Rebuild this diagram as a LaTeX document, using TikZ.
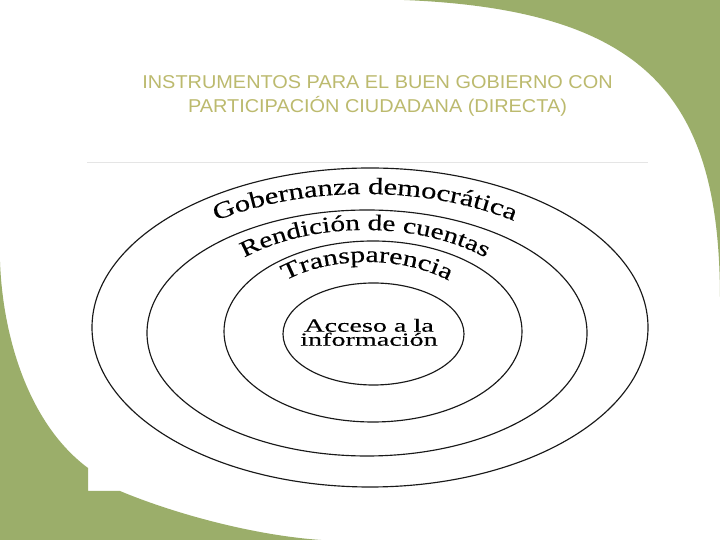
\documentclass[tikz,border=0pt]{standalone}
\usepackage{fontspec}
\setmainfont{Liberation Serif}
\newfontfamily\titlefont[FakeStretch=1.07]{Liberation Sans}
\newfontfamily\arcserif[FakeStretch=1.3,FakeBold=0.3]{Liberation Serif}
\newfontfamily\coreserif[FakeStretch=1.52,FakeBold=0.3]{Liberation Serif}
\usetikzlibrary{decorations.text}
\definecolor{slidegreen}{RGB}{155,174,106}
\definecolor{titlekhaki}{RGB}{188,186,110}
\begin{document}
\begin{tikzpicture}[x=1pt,y=1pt,
  ring/.style={line width=1.15pt, draw=black!90},
  titletext/.style={font=\titlefont\fontsize{18.6}{22}\selectfont, text=titlekhaki, anchor=base, inner sep=0pt},
  coretext/.style={font=\coreserif\fontsize{18.5}{14}\selectfont, anchor=base, inner sep=0pt}]
\useasboundingbox (0,0) rectangle (720,540);
\fill[white] (0,0) rectangle (720,540);
% green slide decorations
\fill[slidegreen] (404,540) .. controls (650,530) and (720,440) .. (720,240) -- (720,540) -- cycle;
\fill[slidegreen] (0,278) .. controls (3,200) and (30,115) .. (88,72) -- (88,49) -- (120,49)
  .. controls (170,28) and (250,5) .. (321,0) -- (0,0) -- cycle;
% thin rule above the figure
\draw[black!10, line width=0.8pt] (87,378) -- (648,378);
% title
\node[titletext] (t1) at (377.5,451.7) {INSTRUMENTOS PARA EL BUEN GOBIERNO CON};
\node[titletext] (t2) at (377.5,427.3) {PARTICIPACIÓN CIUDADANA (DIRECTA)};
% rings
\draw[ring] (370,212.5) ellipse [x radius=278, y radius=159.5];
\draw[ring] (367,207) ellipse [x radius=220, y radius=123];
\draw[ring] (373,208.5) ellipse [x radius=149, y radius=90.5];
\draw[ring] (373.5,206) ellipse [x radius=90.5, y radius=51];
% curved labels
\path[decorate, decoration={text along path, text align=center,
  text={|\arcserif\fontsize{23.5}{23.5}\selectfont|Gobernanza democrática}}]
  (115,209) arc[start angle=180, end angle=0, x radius=250, y radius=137];
\path[decorate, decoration={text along path, text align=center,
  text={|\arcserif\fontsize{22.5}{22.5}\selectfont|Rendición de cuentas}}]
  (189,208) arc[start angle=180, end angle=0, x radius=176, y radius=102];
\path[decorate, decoration={text along path, text align=center,
  text={|\arcserif\fontsize{23}{23}\selectfont|Transparencia}}]
  (247,208) arc[start angle=180, end angle=0, x radius=120, y radius=70];
% core label
\node[coretext] (c1) at (369,208.3) {Acceso a la};
\node[coretext] (c2) at (369,194.3) {información};
\end{tikzpicture}
\end{document}
